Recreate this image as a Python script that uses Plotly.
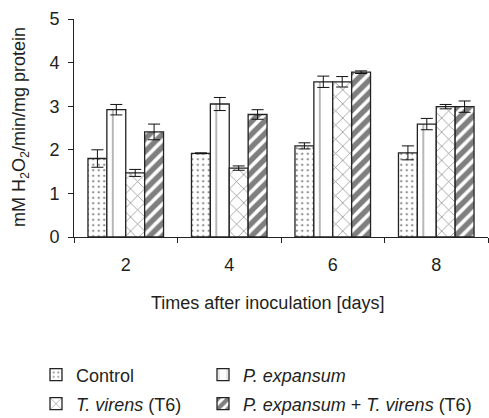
import plotly.graph_objects as go

days = ["2", "4", "6", "8"]
series_names = ["Control", "<i>P. expansum</i>", "<i>T. virens</i> (T6)",
                "<i>P. expansum</i> + <i>T. virens</i> (T6)"]
control = [1.80, 1.92, 2.09, 1.93]
control_err = [0.20, 0.01, 0.07, 0.16]
pexp = [2.92, 3.05, 3.56, 2.59]
pexp_err = [0.12, 0.15, 0.13, 0.13]
tvir = [1.47, 1.58, 3.56, 2.99]
tvir_err = [0.08, 0.05, 0.12, 0.05]
combo = [2.41, 2.81, 3.78, 2.99]
combo_err = [0.18, 0.11, 0.03, 0.13]

values = [control, pexp, tvir, combo]
errors = [control_err, pexp_err, tvir_err, combo_err]
patterns = [
    dict(shape=".", size=5.5, solidity=0.16, fgcolor="#222", bgcolor="white"),
    dict(shape="|", size=25.875, solidity=0.06, fgcolor="#444", bgcolor="white"),
    dict(shape="x", size=10, solidity=0.15, fgcolor="#222", bgcolor="white"),
    dict(shape="/", size=9, solidity=0.6, fgcolor="#000", bgcolor="white"),
]
FONT = "Liberation Sans, Arial, sans-serif"
TXT = "#231f20"

fig = go.Figure()
legend_ids = ["legend", "legend2", "legend3", "legend4"]
for i in range(4):
    fig.add_trace(go.Bar(
        x=days, y=values[i], name=series_names[i],
        marker=dict(color="white", line=dict(color="#222", width=1.3), pattern=patterns[i]),
        error_y=dict(type="data", array=errors[i], color="#111", thickness=1, width=6),
        legend=legend_ids[i],
    ))

# legend positions (container px)
leg_pos = [(36, 375), (203, 375), (36, 404), (203, 404)]
W, H = 489, 418
L, R, T, B = 74, 1, 19, 181
PW, PH = W - L - R, H - T - B
leg_common = dict(xref="container", yref="container", xanchor="left", yanchor="middle",
                  font=dict(family=FONT, size=18, color=TXT), bgcolor="rgba(0,0,0,0)",
                  borderwidth=0, itemwidth=30)
for lid, (px, py) in zip(legend_ids, leg_pos):
    fig.update_layout(**{lid: dict(x=px / W, y=1 - py / H, **leg_common)})

fig.update_layout(
    width=W, height=H,
    margin=dict(l=L, r=R, t=T, b=B, autoexpand=False),
    paper_bgcolor="white", plot_bgcolor="white",
    barmode="group", bargap=0.27, bargroupgap=0,
    font=dict(family=FONT, size=18, color=TXT),
    showlegend=True,
    xaxis=dict(type="category", range=[-0.5, 3.5], showline=True, linecolor="#222", linewidth=1,
               ticks="outside", ticklen=5, tickcolor="#222", tickson="boundaries",
               showgrid=False, tickfont=dict(size=18), zeroline=False, automargin=False,
               ticklabelstandoff=11),
    yaxis=dict(range=[0, 5], dtick=1, showline=True, linecolor="#222", linewidth=1,
               ticks="outside", ticklen=5, tickcolor="#222", showgrid=False, zeroline=False,
               tickfont=dict(size=18), ticklabelstandoff=5, automargin=False),
    annotations=[
        dict(text="Times after inoculation [days]", xref="paper", yref="paper",
             x=(267 - L) / PW, y=(H - B - 303) / PH, showarrow=False,
             xanchor="center", yanchor="middle", font=dict(size=18, color=TXT)),
        dict(text="mM H<sub>2</sub>O<sub>2</sub>/min/mg protein", xref="paper", yref="paper",
             x=(20 - L) / PW, y=(H - B - 127) / PH, showarrow=False, textangle=-90,
             xanchor="center", yanchor="middle", font=dict(size=18, color=TXT)),
    ],
)

fig.write_html("out.html")
